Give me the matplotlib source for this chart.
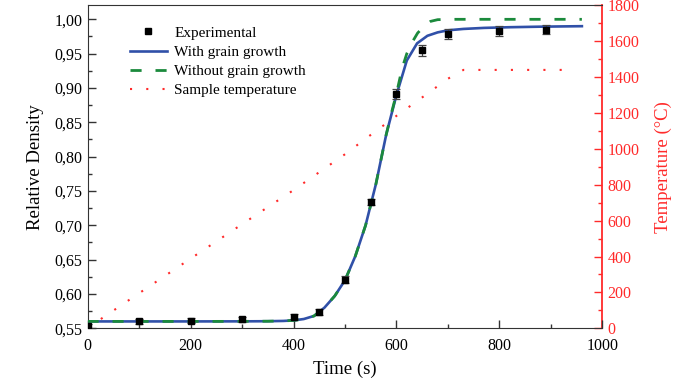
import matplotlib
matplotlib.use("Agg")
import matplotlib.pyplot as plt
from matplotlib.ticker import MultipleLocator, FuncFormatter

plt.rcParams['font.family'] = ['Liberation Serif', 'DejaVu Serif']

# Experimental densities with error bars
time_exp = [0, 100, 200, 300, 400, 450, 500, 550, 600, 650, 700, 800, 890]
dens_exp = [0.553, 0.560, 0.561, 0.563, 0.567, 0.574, 0.621, 0.734, 0.891, 0.955, 0.979, 0.983, 0.985]
dens_err = [0.003, 0.004, 0.004, 0.004, 0.004, 0.004, 0.005, 0.005, 0.007, 0.008, 0.007, 0.007, 0.007]

# Model with grain growth
time_gg = [0, 100, 200, 300, 350, 380, 400, 420, 440, 460, 480, 500, 520, 540, 560,
           580, 600, 620, 640, 660, 680, 700, 730, 770, 820, 880, 960]
dens_gg = [0.5600, 0.5600, 0.5600, 0.5601, 0.5603, 0.5607, 0.5615, 0.5635, 0.568, 0.580,
           0.597, 0.620, 0.655, 0.700, 0.760, 0.832, 0.890, 0.940, 0.965, 0.976, 0.981,
           0.984, 0.986, 0.9875, 0.9885, 0.9893, 0.990]

# Model without grain growth
time_ngg = [0, 100, 200, 300, 350, 380, 400, 420, 440, 460, 480, 500, 520, 540, 560,
            580, 590, 600, 611, 620, 630, 641, 655, 666, 680, 714, 800, 960]
dens_ngg = [0.5600, 0.5600, 0.5600, 0.5601, 0.5603, 0.5607, 0.5615, 0.5635, 0.568, 0.580,
            0.597, 0.620, 0.655, 0.700, 0.760, 0.832, 0.863, 0.892, 0.929, 0.950, 0.966,
            0.980, 0.991, 0.997, 0.9995, 1.000, 1.000, 1.000]

# Sample temperature
time_temp = [0, 25, 100, 200, 300, 400, 500, 550, 600, 650, 700, 730, 945]
temp = [0, 50, 195, 388, 580, 770, 970, 1078, 1184, 1287, 1391, 1440, 1440]

blue = '#3050a8'
green = '#1b8a3c'
red = '#ff2a2a'

fig, ax = plt.subplots(figsize=(6.88, 3.85), dpi=100)
fig.subplots_adjust(left=0.1272, right=0.8757, bottom=0.1473, top=0.9862)
ax2 = ax.twinx()

# temperature behind, density curves on top
ax.set_zorder(2)
ax.patch.set_visible(False)

t_line, = ax2.plot(time_temp, temp, color=red, lw=1.5, linestyle=(0, (1, 6.8)),
                   label='Sample temperature')

b_line, = ax.plot(time_gg, dens_gg, color=blue, lw=1.9, label='With grain growth', zorder=3)
g_line, = ax.plot(time_ngg, dens_ngg, color=green, lw=2.0, linestyle=(0, (4, 5)),
                  label='Without grain growth', zorder=4)
ax.errorbar(time_exp, dens_exp, yerr=dens_err, fmt='none', ecolor='#444444',
            elinewidth=0.9, capsize=3, capthick=0.9, zorder=5)
e_pts, = ax.plot(time_exp, dens_exp, 's', color='black', ms=3.8, ls='none',
                 label='Experimental', zorder=6)

ax.set_xlim(0, 1000)
ax.set_ylim(0.55, 1.0204)
ax2.set_ylim(0, 1800)

ax.xaxis.set_major_locator(MultipleLocator(200))
ax.xaxis.set_minor_locator(MultipleLocator(100))
ax.yaxis.set_major_locator(MultipleLocator(0.05))
ax.yaxis.set_minor_locator(MultipleLocator(0.025))
ax.yaxis.set_major_formatter(FuncFormatter(lambda v, _: f"{v:.2f}".replace('.', ',')))
ax2.yaxis.set_major_locator(MultipleLocator(200))
ax2.yaxis.set_minor_locator(MultipleLocator(100))

ax.tick_params(axis='both', which='major', direction='in', length=6, width=1,
               labelsize=11.5, color='#333333', top=False, right=False)
ax.tick_params(axis='x', which='major', pad=7)
ax.tick_params(axis='both', which='minor', direction='in', length=3, width=1,
               color='#333333', top=False, right=False)
ax2.tick_params(axis='y', which='major', direction='in', length=6, width=1,
                colors=red, labelsize=11.5)
ax2.tick_params(axis='y', which='minor', direction='in', length=3, width=1, colors=red)

for side in ['left', 'bottom', 'top']:
    ax.spines[side].set_color('#333333')
ax2.spines['right'].set_color(red)
ax2.spines['right'].set_linewidth(1.3)
for side in ['left', 'bottom', 'top']:
    ax2.spines[side].set_visible(False)
ax.spines['right'].set_visible(False)

ax.set_xlabel('Time (s)', fontsize=13.5, labelpad=5)
ax.set_ylabel('Relative Density', fontsize=13.5, labelpad=8)
ax2.set_ylabel('Temperature (°C)', fontsize=13.5, color=red, labelpad=11)

ax.legend(handles=[e_pts, b_line, g_line, t_line], loc='upper left',
          bbox_to_anchor=(0.0825, 0.9355), frameon=False, fontsize=11,
          borderpad=0, borderaxespad=0, handlelength=2.4, handletextpad=0.5,
          labelspacing=0.36, markerscale=1.0)

fig.savefig('out.png', dpi=100)
